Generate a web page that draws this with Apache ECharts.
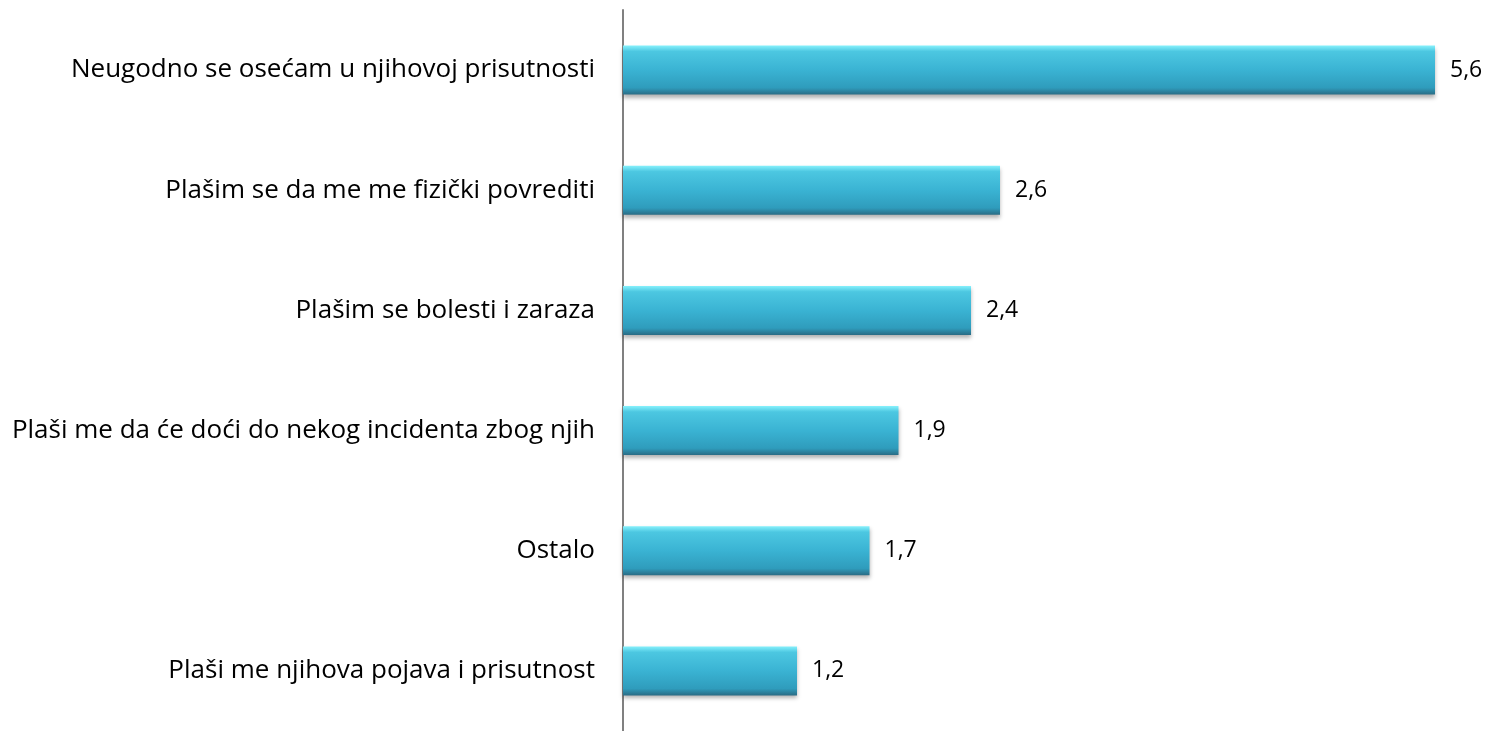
<!DOCTYPE html>
<html>
<head>
<meta charset="utf-8">
<script src="https://cdn.jsdelivr.net/npm/echarts@6/dist/echarts.min.js"></script>
<style>
  html, body { margin: 0; padding: 0; background: #fff; }
  #chart { width: 1493px; height: 731px; }
</style>
</head>
<body>
<div id="chart"></div>
<script>
  const categories = [
    'Neugodno se osećam u njihovoj prisutnosti',
    'Plašim se da me me fizički povrediti',
    'Plašim se bolesti i zaraza',
    'Plaši me da će doći do nekog incidenta zbog njih',
    'Ostalo',
    'Plaši me njihova pojava i prisutnost'
  ]
  const values = [5.6, 2.6, 2.4, 1.9, 1.7, 1.2]

  const chart = echarts.init(document.getElementById('chart'))

  const barColor = new echarts.graphic.LinearGradient(0, 0, 0, 1, [
    { offset: 0, color: '#86f1fc' },
    { offset: 0.12, color: '#4cc7e1' },
    { offset: 0.5, color: '#3ab3d3' },
    { offset: 0.86, color: '#2f9cbc' },
    { offset: 1, color: '#2a6c85' }
  ])

  const option = {
    animation: false,
    grid: { left: 623, right: 0, top: 10, bottom: 0 },
    xAxis: {
      type: 'value',
      min: 0,
      max: 6,
      show: false
    },
    yAxis: {
      type: 'category',
      data: categories,
      inverse: true,
      axisLine: { show: true, lineStyle: { color: '#808080', width: 2 } },
      axisTick: { show: false },
      axisLabel: {
        margin: 28,
        fontSize: 26,
        color: '#000',
        fontFamily: 'Open Sans'
      }
    },
    series: [
      {
        type: 'bar',
        data: values,
        barWidth: 49,
        itemStyle: {
          color: barColor,
          shadowColor: 'rgba(0,0,0,0.3)',
          shadowBlur: 4,
          shadowOffsetY: 3
        },
        label: {
          show: true,
          position: 'right',
          distance: 15,
          fontSize: 23,
          color: '#000',
          fontFamily: 'Open Sans',
          formatter: p => String(p.value).replace('.', ',')
        }
      }
    ]
  }

  chart.setOption(option)
</script>
</body>
</html>
